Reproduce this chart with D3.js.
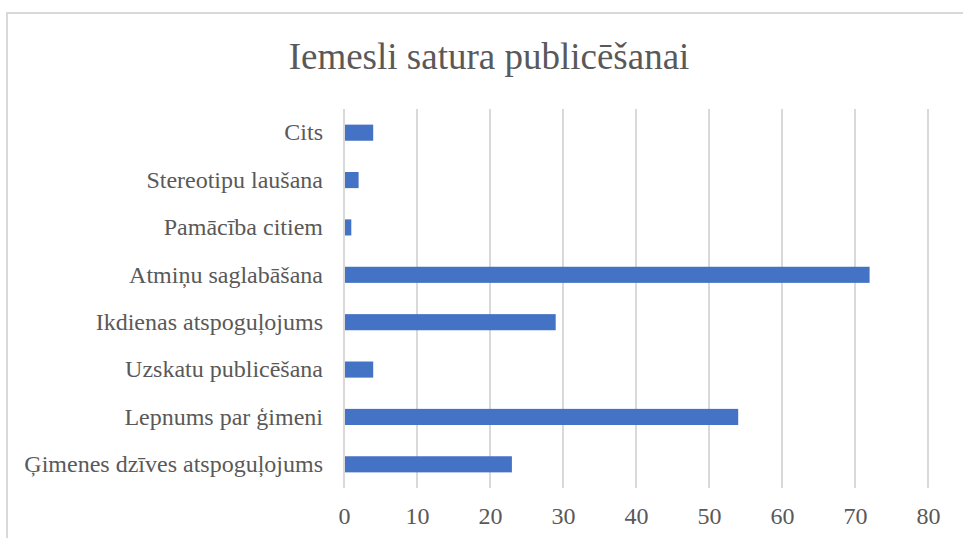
<!DOCTYPE html>
<html>
<head>
<meta charset="utf-8">
<script src="https://cdn.jsdelivr.net/npm/d3@7"></script>
<style>
  body { margin: 0; background: #fff; }
</style>
</head>
<body>
<svg id="chart"></svg>
<script>
// data
var categories = ["Cits", "Stereotipu laušana", "Pamācība citiem", "Atmiņu saglabāšana",
                  "Ikdienas atspoguļojums", "Uzskatu publicēšana", "Lepnums par ģimeni",
                  "Ģimenes dzīves atspoguļojums"];
var values = [4, 2, 1, 72, 29, 4, 54, 23];
var ticks = [0, 10, 20, 30, 40, 50, 60, 70, 80];
var title = "Iemesli satura publicēšanai";

var W = 963, H = 538;
var FONT = "'Liberation Serif', 'Times New Roman', serif";
var margin = {top: 109, left: 344};
var plotW = 584, plotH = 379;

var svg = d3.select("svg#chart").attr("width", W).attr("height", H);

//chart border (runs off the right and bottom edges)
svg.append("rect")
    .attr("x", 7).attr("y", 13)
    .attr("width", W + 20).attr("height", H + 20)
    .attr("fill", "#fff")
    .attr("stroke", "#d9d9d9")
    .attr("stroke-width", 2);

svg.append("text")
    .attr("x", 489).attr("y", 69)
    .attr("text-anchor", "middle")
    .style("font-family", FONT)
    .style("font-size", "37px")
    .style("fill", "#595959")
    .text(title);

var g = svg.append("g")
    .attr("transform", "translate(" + margin.left + "," + margin.top + ")");

var x = d3.scaleLinear().domain([0, 80]).range([0, plotW]);
var y = d3.scaleBand().domain(categories).range([0, plotH]).paddingInner(0.66).paddingOuter(0.33);

// gridlines
g.selectAll(".grid")
    .data(ticks)
    .enter().append("line")
    .attr("class", "grid")
    .attr("x1", function (d) { return x(d); })
    .attr("x2", function (d) { return x(d); })
    .attr("y1", 0)
    .attr("y2", plotH)
    .attr("stroke", "#d9d9d9")
    .attr("stroke-width", 2);

// bars
g.selectAll(".bar")
    .data(values)
    .enter().append("rect")
    .attr("class", "bar")
    .attr("x", x(0) + 1)
    .attr("y", function (d, i) { return y(categories[i]); })
    .attr("width", function (d) { return x(d) - x(0) - 1; })
    .attr("height", y.bandwidth())
    .attr("fill", "#4472c4");

// x axis labels
var xAxis = d3.axisBottom(x).tickValues(ticks).tickSize(0).tickPadding(19);
var gx = g.append("g")
    .attr("transform", "translate(0," + plotH + ")")
    .call(xAxis);
gx.select(".domain").remove();
gx.selectAll("text")
    .style("font-family", FONT)
    .style("font-size", "24px")
    .attr("fill", "#595959");

// category labels
var yAxis = d3.axisLeft(y).tickSize(0).tickPadding(21);
var gy = g.append("g").call(yAxis);
gy.select(".domain").remove();
gy.selectAll("text")
    .style("font-family", FONT)
    .style("font-size", "24px")
    .attr("fill", "#595959");
</script>
</body>
</html>
